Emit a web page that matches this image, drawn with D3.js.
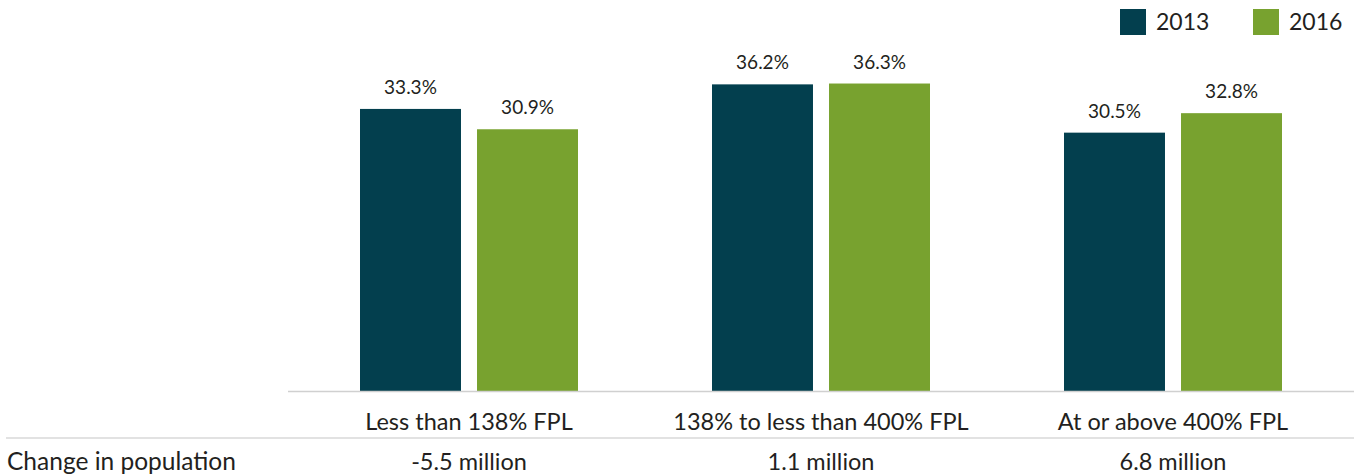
<!DOCTYPE html>
<html><head><meta charset="utf-8">
<script src="https://cdn.jsdelivr.net/npm/d3@7"></script>
<style>body{margin:0;background:#fff}svg{display:block}text{font-family:"Lato",sans-serif;fill:#231f20}</style>
</head><body>
<script>
const categories = ["Less than 138% FPL", "138% to less than 400% FPL", "At or above 400% FPL"];
const seriesNames = ["2013", "2016"];
const values2013 = [33.3, 36.2, 30.5];
const values2016 = [30.9, 36.3, 32.8];
const popChange = ["-5.5 million", "1.1 million", "6.8 million"];
const rowLabel = "Change in population";
const colors = ["#033f4e", "#78a22f"];

const W = 1354, H = 476;
const svg = d3.select("body").append("svg").attr("width", W).attr("height", H);

const x = d3.scaleBand().domain(categories).range([293, 1349]);
const xs = d3.scaleBand().domain(seriesNames).range([67, 285]).paddingInner(0.137);
const y = d3.scaleLinear().domain([0, 46.16]).range([391, 0]);

const data = categories.map((c, i) => ({cat: c, vals: [values2013[i], values2016[i]]}));

const g = svg.selectAll("g.grp").data(data).join("g").attr("transform", d => `translate(${x(d.cat)},0)`);
g.selectAll("rect").data(d => d.vals.map((v, j) => ({v, s: seriesNames[j], j})))
  .join("rect")
  .attr("x", d => xs(d.s)).attr("width", xs.bandwidth())
  .attr("y", d => y(d.v)).attr("height", d => y(0) - y(d.v))
  .attr("fill", d => colors[d.j]);
g.selectAll("text.val").data(d => d.vals.map((v, j) => ({v, s: seriesNames[j]})))
  .join("text").attr("class", "val")
  .attr("x", d => xs(d.s) + xs.bandwidth() / 2).attr("y", d => y(d.v) - 15)
  .attr("text-anchor", "middle").attr("font-size", 19)
  .text(d => d.v.toFixed(1) + "%");

// axis line
svg.append("line").attr("x1", 288).attr("x2", W).attr("y1", 391.5).attr("y2", 391.5).attr("stroke", "#d0d0d0").attr("stroke-width", 1.5);
// category labels
svg.selectAll("text.cat").data(categories).join("text").attr("class", "cat")
  .attr("x", d => x(d) + x.bandwidth() / 2).attr("y", 430)
  .attr("text-anchor", "middle").attr("font-size", 23.5).text(d => d);
// separator
svg.append("line").attr("x1", 6).attr("x2", W).attr("y1", 438).attr("y2", 438).attr("stroke", "#d9d9d9").attr("stroke-width", 1.5);
svg.append("text").attr("x", 7).attr("y", 470).attr("font-size", 24.5).text(rowLabel);
svg.selectAll("text.pop").data(popChange).join("text").attr("class", "pop")
  .attr("x", (d, i) => x(categories[i]) + x.bandwidth() / 2).attr("y", 470)
  .attr("text-anchor", "middle").attr("font-size", 23.5).text(d => d);

// legend
const legX = [1120, 1253];
const lg = svg.selectAll("g.leg").data(seriesNames).join("g").attr("transform", (d, i) => `translate(${legX[i]},9)`);
lg.append("rect").attr("width", 26).attr("height", 26).attr("fill", (d, i) => colors[i]);
lg.append("text").attr("x", 36).attr("y", 21).attr("font-size", 23).text(d => d);
</script>
</body></html>
